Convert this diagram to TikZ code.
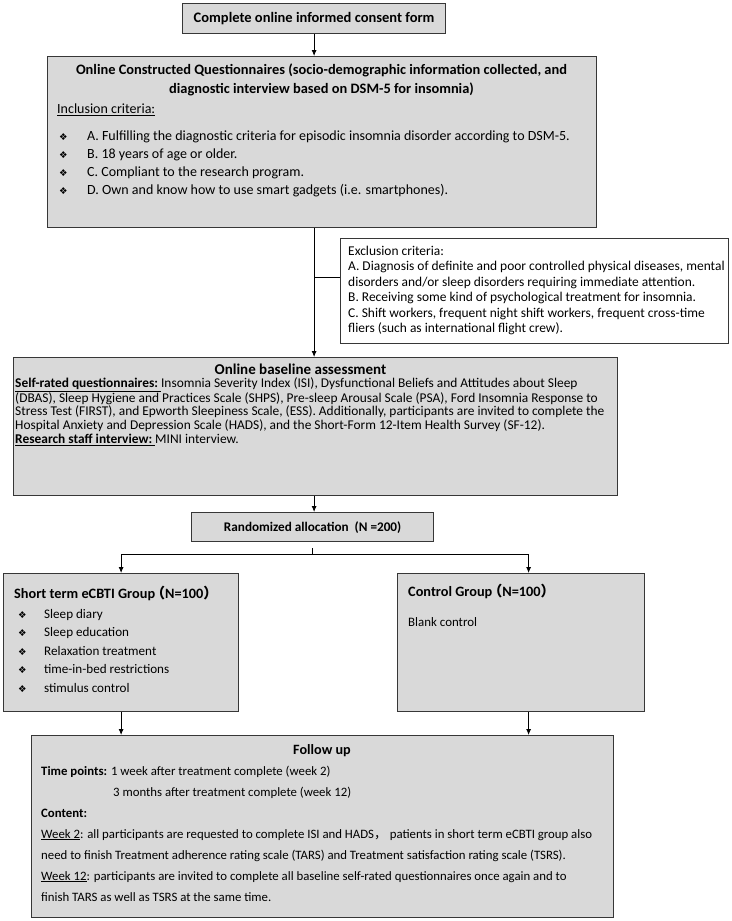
\documentclass[tikz,border=0pt]{standalone}
\usepackage{fontspec}
\setmainfont{Carlito}
\newfontfamily\cjk{Noto Sans CJK SC}
\newfontfamily\dingfont{DejaVu Sans}
\usetikzlibrary{arrows.meta}

\definecolor{boxgray}{RGB}{217,217,217}
\definecolor{edgegray}{RGB}{55,55,55}
\newcommand{\bul}[1][28pt]{\makebox[#1][l]{\dingfont\fontsize{9.5}{9.5}\selectfont ❖}}
\newcommand{\fsize}[2]{\fontsize{#1}{#2}\selectfont}
\newcommand{\topline}{\rule{0pt}{12pt}}
\newcommand{\lpar}{\makebox[10pt][r]{\cjk （}}
\newcommand{\rpar}{\makebox[9pt][l]{\cjk ）}}

\tikzset{
  box/.style={draw=edgegray, line width=1.2pt, fill=boxgray, inner sep=0pt, anchor=north west},
  plainbox/.style={box, fill=white},
  txt/.style={inner sep=0pt, anchor=north west, align=left},
  arr/.style={-{Latex[length=6pt,width=5pt]}, line width=0.8pt},
}

\begin{document}
\begin{tikzpicture}[x=1pt, y=-1pt]
\useasboundingbox (0,0) rectangle (731,921);

% boxes
\node[box, minimum width=263pt, minimum height=30pt, font=\bfseries\fsize{14.5}{16}] (consent) at (182,3) {Complete online informed consent form};
\node[box, minimum width=549pt, minimum height=171pt] (quest) at (47,56) {};
\node[plainbox, minimum width=388pt, minimum height=105pt] (excl) at (340,238) {};
\node[box, minimum width=604pt, minimum height=138pt] (base) at (13,357) {};
\node[box, minimum width=242pt, minimum height=29pt, font=\bfseries\fsize{13.2}{15}] (rand) at (191,512) {Randomized allocation\ \ (N =200)};
\node[box, minimum width=235pt, minimum height=138pt] (ecbti) at (3,573) {};
\node[box, minimum width=247pt, minimum height=138pt] (ctrl) at (397,573) {};
\node[box, minimum width=582pt, minimum height=182pt] (follow) at (31,735) {};

% texts
\node[txt, anchor=north, align=center, font=\bfseries\fsize{14.4}{19}] (questhead) at (321.5,62.4)
  {\topline Online Constructed Questionnaires (socio-demographic information collected, and\\
   diagnostic interview based on DSM-5 for insomnia)};
\node[txt, anchor=base west, font=\fsize{14}{18}] (incl) at (57,113.3) {\underline{Inclusion criteria:}};
\node[txt, font=\fsize{14}{18}] (incllist) at (59,128.6)
  {\topline\bul A. Fulfilling the diagnostic criteria for episodic insomnia disorder according to DSM-5.\\
   \bul B. 18 years of age or older.\\
   \bul C. Compliant to the research program.\\
   \bul D. Own and know how to use smart gadgets (i.e. smartphones).};

\node[txt, font=\fsize{13.45}{15.5}] (excltxt) at (348,243.2)
  {\topline Exclusion criteria:\\
   A. Diagnosis of definite and poor controlled physical diseases, mental\\
   disorders and/or sleep disorders requiring immediate attention.\\
   B. Receiving some kind of psychological treatment for insomnia.\\
   C. Shift workers, frequent night shift workers, frequent cross-time\\
   fliers (such as international flight crew).};

\node[txt, anchor=base, font=\bfseries\fsize{15}{16}] (basehead) at (300.5,374.5) {Online baseline assessment};
\node[txt, font=\fsize{13.4}{13.7}] (basetxt) at (15,375.1)
  {\topline\textbf{\underline{Self-rated questionnaires:\ }}Insomnia Severity Index (ISI), Dysfunctional Beliefs and Attitudes about Sleep\\
   (DBAS), Sleep Hygiene and Practices Scale (SHPS), Pre-sleep Arousal Scale (PSA), Ford Insomnia Response to\\
   Stress Test (FIRST), and Epworth Sleepiness Scale, (ESS). Additionally, participants are invited to complete the\\
   Hospital Anxiety and Depression Scale (HADS), and the Short-Form 12-Item Health Survey (SF-12).\\
   \textbf{\underline{Research staff interview:\ }}MINI interview.};

\node[txt, anchor=base west, font=\bfseries\fsize{14.3}{16}] (ecbtihead) at (14,598.3) {Short term eCBTI Group\lpar N=100\rpar};
\node[txt, font=\fsize{13.1}{18.5}] (ecbtilist) at (18,606)
  {\topline\bul[26pt]Sleep diary\\
   \bul[26pt]Sleep education\\
   \bul[26pt]Relaxation treatment\\
   \bul[26pt]time-in-bed restrictions\\
   \bul[26pt]stimulus control};

\node[txt, anchor=base west, font=\bfseries\fsize{14.3}{16}] (ctrlhead) at (408,596.3) {Control Group\lpar N=100\rpar};
\node[txt, anchor=base west, font=\fsize{12.9}{14}] (ctrltxt) at (408,626) {Blank control};

\node[txt, anchor=base, font=\bfseries\fsize{14.2}{16}] (followhead) at (322,754.3) {Follow up};
\node[txt, font=\fsize{12.8}{21}] (followtxt) at (41,763)
  {\topline\textbf{Time points:} 1 week after treatment complete (week 2)\\
   \hspace*{72pt}3 months after treatment complete (week 12)\\
   \textbf{Content:}\\
   \underline{Week 2}: all participants are requested to complete ISI and HADS{\cjk ，}\ patients in short term eCBTI group also\\
   need to finish Treatment adherence rating scale (TARS) and Treatment satisfaction rating scale (TSRS).\\
   \underline{Week 12}: participants are invited to complete all baseline self-rated questionnaires once again and to\\
   finish TARS as well as TSRS at the same time.};

% connectors
\draw[arr] (consent.south) -- (consent.south |- quest.north);
\draw[arr] (consent.south |- quest.south) -- (consent.south |- base.north);
\coordinate (exclin) at ([yshift=13.5pt]excl.west);
\draw[line width=0.8pt] (exclin -| consent.south) -- (exclin);
\draw[arr] (consent.south |- base.south) -- (consent.south |- rand.north);
\coordinate (split) at ([yshift=-12pt]rand.south);
\draw[line width=0.8pt] ([yshift=-6pt]rand.south) -- (split);
\coordinate (ctrlin) at ([xshift=7.5pt]ctrl.north);
\draw[arr] (split) -| (ecbti.north);
\draw[arr] (split) -| (ctrlin);
\draw[arr] (ecbti.south) -- (ecbti.south |- follow.north);
\coordinate (ctrlout) at ([xshift=7.5pt]ctrl.south);
\draw[arr] (ctrlout) -- (ctrlout |- follow.north);
\end{tikzpicture}
\end{document}
